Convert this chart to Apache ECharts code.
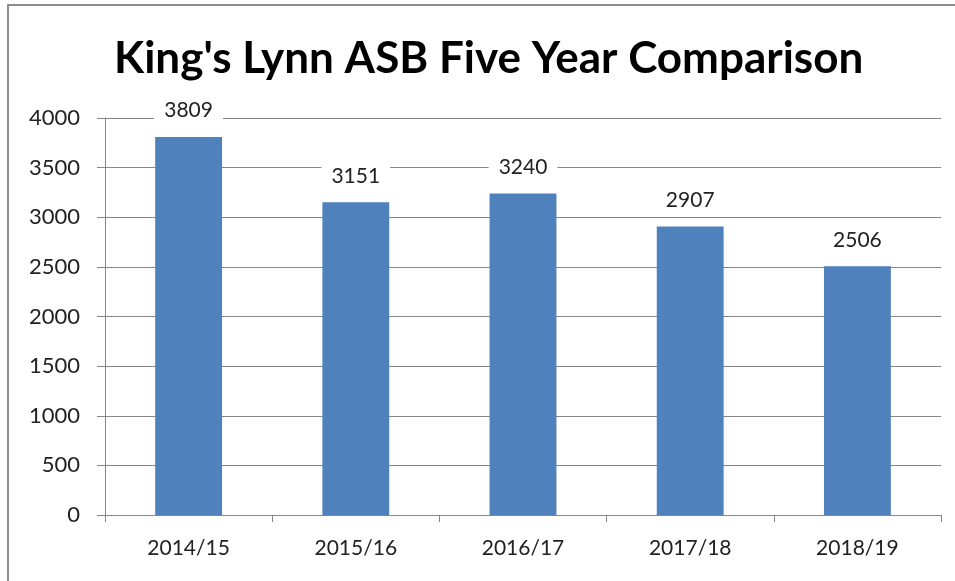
<!DOCTYPE html>
<html>
<head>
<meta charset="utf-8">
<script src="https://cdn.jsdelivr.net/npm/echarts@6/dist/echarts.min.js"></script>
<style>
  html, body { margin: 0; padding: 0; background: #fff; }
  #frame { position: absolute; left: 7px; top: 4px; width: 960px; height: 600px;
           border-left: 2px solid #8c8c8c; border-top: 2px solid #8c8c8c; }
  #main { position: absolute; left: 0; top: 0; width: 955px; height: 581px; }
</style>
</head>
<body>
<div id="frame"></div>
<div id="main"></div>
<script>
var years = ['2014/15', '2015/16', '2016/17', '2017/18', '2018/19'];
var counts = [3809, 3151, 3240, 2907, 2506];
var yTicks = [0, 500, 1000, 1500, 2000, 2500, 3000, 3500, 4000];

var FONT = 'Lato, "Open Sans", sans-serif';
var chart = echarts.init(document.getElementById('main'));

chart.setOption({
    animation: false,
    title: {
        text: "King's Lynn ASB Five Year Comparison",
        left: 109,
        top: 32,
        textStyle: { fontFamily: FONT, fontSize: 44, fontWeight: 'bold', color: '#000' }
    },
    grid: { left: 105, right: 14, top: 118, bottom: 66, containLabel: false },
    xAxis: {
        type: 'category',
        data: years,
        axisLine: { lineStyle: { color: '#868686', width: 1 } },
        axisTick: { show: true, length: 7, lineStyle: { color: '#868686' } },
        axisLabel: { fontFamily: FONT, fontSize: 21, color: '#222', margin: 23 }
    },
    yAxis: {
        type: 'value',
        min: yTicks[0],
        max: yTicks[yTicks.length - 1],
        interval: 500,
        axisLine: { show: true, lineStyle: { color: '#868686', width: 1 } },
        axisTick: { show: true, length: 8, lineStyle: { color: '#868686' } },
        axisLabel: { fontFamily: FONT, fontSize: 22, color: '#222', margin: 25,
                     formatter: function (v) { return String(v); } },
        splitLine: { lineStyle: { color: '#868686', width: 1 } }
    },
    series: [{
        type: 'bar',
        data: counts,
        barWidth: '40%',
        itemStyle: { color: '#4F81BD' },
        label: {
            show: true,
            position: 'top',
            distance: 14,
            fontFamily: FONT,
            fontSize: 21,
            color: '#222',
            backgroundColor: '#fff',
            padding: [2, 10]
        }
    }]
});
</script>
</body>
</html>
